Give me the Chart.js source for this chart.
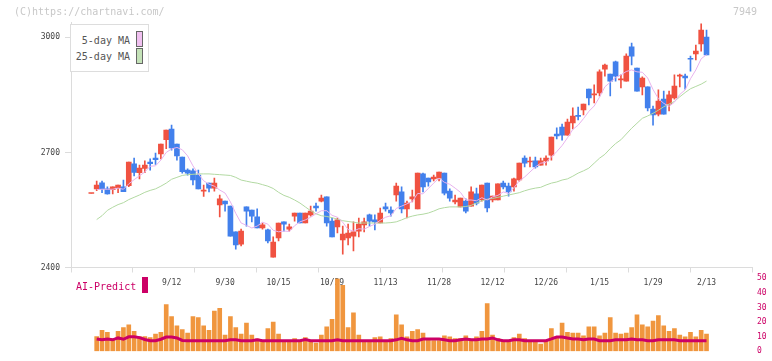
<!DOCTYPE html>
<html>
<head>
<meta charset="utf-8">
<script src="https://cdn.jsdelivr.net/npm/chart.js@4/dist/chart.umd.min.js"></script>
<style>
  body { margin: 0; background: #fff; width: 772px; height: 361px; overflow: hidden; position: relative;
         font-family: 'DejaVu Sans Mono', 'Liberation Mono', monospace; }
  canvas { position: absolute; left: 0; top: 0; }
  .note { position: absolute; font-size: 10px; line-height: 12px; color: #c8c8c8; }
  .legend { position: absolute; left: 70px; top: 24px; width: 79px; height: 48px; box-sizing: border-box;
            border: 1px solid #ddd; background: #fff; }
  .lg-text { position: absolute; width: 60px; text-align: right; font-size: 10px; line-height: 12px; color: #555; }
  .lg-box { position: absolute; width: 7px; box-sizing: border-box; border: 1px solid #666; }
  .ai { position: absolute; left: 76px; top: 281px; font-size: 10px; line-height: 12px; color: #cc0066; }
  .ai-box { position: absolute; left: 142px; top: 277px; width: 6px; height: 16px; background: #cc0066; }
</style>
</head>
<body>
<canvas id="price" width="772" height="361"></canvas>
<canvas id="vol" width="772" height="361"></canvas>

<div class="note" style="left:14px;top:6px;">(C)https://chartnavi.com/</div>
<div class="note" style="left:733px;top:6px;">7949</div>

<div class="legend"></div>
<div class="lg-text" style="left:70px;top:35px;">5-day MA</div>
<div class="lg-box" style="left:136px;top:31px;height:16px;background:#f0c0f0;"></div>
<div class="lg-text" style="left:70px;top:51px;">25-day MA</div>
<div class="lg-box" style="left:136px;top:48px;height:16px;background:#c4e2b8;"></div>

<div class="ai">AI-Predict</div>
<div class="ai-box"></div>

<script>
/* ---- dados ---- */
const opens = [2593,2605,2621,2605,2603,2608,2610,2613,2670,2647,2658,2675,2685,2696,2733,2761,2722,2688,2654,2652,
  2641,2599,2620,2607,2563,2573,2560,2493,2461,2558,2550,2532,2503,2498,2427,2477,2519,2500,2534,2542,
  2516,2537,2560,2573,2584,2521,2506,2472,2477,2482,2495,2511,2537,2524,2516,2558,2550,2589,2597,2553,
  2579,2553,2644,2633,2631,2633,2646,2599,2571,2558,2573,2560,2592,2576,2620,2576,2576,2620,2612,2610,
  2628,2685,2675,2678,2667,2678,2693,2748,2766,2745,2777,2796,2811,2865,2850,2855,2917,2904,2936,2889,
  2886,2975,2920,2871,2871,2813,2800,2839,2826,2842,2899,2899,2945,2957,2983,3001];
const highs = [2593,2625,2625,2610,2610,2615,2628,2675,2685,2667,2678,2683,2698,2722,2758,2771,2722,2688,2657,2657,
  2654,2615,2620,2633,2589,2573,2560,2493,2500,2558,2550,2553,2516,2500,2480,2516,2519,2513,2542,2542,
  2542,2560,2568,2589,2584,2529,2529,2508,2513,2519,2529,2529,2539,2537,2555,2568,2558,2620,2610,2573,
  2602,2646,2646,2633,2641,2649,2646,2605,2589,2581,2579,2610,2607,2615,2620,2586,2618,2625,2620,2633,
  2672,2691,2688,2688,2685,2691,2740,2764,2774,2787,2816,2818,2826,2865,2876,2915,2930,2904,2938,2902,
  2957,2985,2920,2897,2871,2821,2863,2860,2860,2902,2904,2904,2951,2980,3035,3019];
const lows = [2593,2600,2595,2591,2592,2595,2598,2611,2639,2631,2647,2654,2669,2683,2710,2706,2680,2646,2641,2615,
  2605,2585,2597,2599,2532,2547,2482,2448,2456,2508,2519,2503,2500,2464,2427,2469,2495,2495,2521,2516,
  2516,2534,2547,2571,2508,2480,2490,2435,2459,2443,2480,2493,2508,2498,2516,2547,2534,2573,2542,2529,
  2571,2553,2597,2612,2626,2626,2589,2573,2566,2558,2542,2560,2563,2573,2545,2571,2576,2605,2586,2599,
  2625,2662,2662,2659,2667,2667,2680,2735,2732,2745,2761,2785,2798,2824,2829,2847,2899,2847,2886,2868,
  2886,2928,2860,2850,2808,2771,2795,2800,2808,2839,2871,2865,2912,2941,2964,2954];
const closes = [2593,2615,2605,2592,2610,2615,2598,2675,2648,2659,2667,2671,2681,2722,2758,2712,2691,2650,2646,2628,
  2605,2599,2607,2620,2579,2566,2482,2459,2495,2547,2534,2503,2511,2469,2466,2516,2513,2506,2542,2516,
  2542,2547,2555,2581,2516,2480,2524,2487,2490,2493,2513,2519,2521,2519,2542,2553,2542,2612,2553,2568,
  2584,2646,2610,2623,2636,2649,2594,2581,2576,2581,2547,2597,2568,2615,2555,2586,2618,2610,2597,2631,
  2672,2672,2675,2662,2678,2685,2740,2743,2745,2779,2795,2794,2826,2842,2850,2910,2928,2886,2899,2889,
  2951,2951,2860,2894,2816,2798,2834,2800,2850,2873,2899,2894,2943,2964,3019,2954];

const ma5 = [null,2603,2604,2604,2604,2607,2604,2618,2629,2639,2649,2664,2665,2680,2700,2709,2713,2707,2691,2665,
  2644,2626,2617,2612,2602,2594,2571,2541,2516,2510,2503,2508,2518,2513,2497,2493,2495,2494,2509,2519,
  2524,2531,2540,2548,2548,2536,2531,2518,2499,2495,2501,2500,2507,2513,2523,2531,2535,2554,2560,2566,
  2572,2593,2592,2606,2620,2633,2622,2617,2607,2596,2576,2576,2574,2582,2576,2584,2588,2597,2593,2608,
  2626,2636,2649,2662,2672,2674,2688,2702,2718,2738,2760,2771,2788,2807,2821,2844,2871,2883,2895,2902,
  2911,2915,2910,2909,2894,2864,2840,2828,2820,2831,2851,2863,2892,2915,2944,2955];
const ma25 = [null,2525,2535,2549,2557,2564,2569,2577,2583,2589,2596,2601,2605,2612,2620,2630,2635,2640,2642,2643,
  2644,2644,2644,2643,2642,2641,2640,2635,2628,2625,2622,2620,2616,2612,2606,2596,2588,2583,2576,2568,
  2558,2548,2540,2535,2533,2530,2526,2522,2520,2518,2516,2516,2516,2516,2516,2516,2517,2519,2524,2530,
  2534,2537,2539,2542,2547,2553,2556,2558,2558,2558,2559,2562,2568,2574,2578,2580,2583,2586,2589,2592,
  2595,2600,2604,2607,2609,2615,2620,2623,2628,2631,2638,2646,2652,2659,2672,2685,2695,2710,2723,2733,
  2748,2763,2776,2789,2795,2802,2810,2819,2826,2833,2845,2856,2866,2872,2878,2886];

const volume = [null,10.1,14.3,13.0,8.5,13.7,16.2,18.1,13.7,10.1,10.1,9.3,11.8,13.0,31.9,23.7,17.4,14.9,12.4,23.7,
  23.1,17.4,14.3,27.5,29.4,11.1,23.7,16.2,11.8,19.3,11.1,8.5,7.5,15.6,20.0,11.8,7.3,7.3,8.7,7.3,
  9.3,7.3,5.5,11.1,16.8,21.8,49.6,45.2,16.2,26.3,11.1,7.3,7.3,9.3,9.9,7.3,8.7,25.0,18.1,9.9,
  13.7,14.9,12.4,8.7,7.3,7.3,10.5,9.9,8.7,8.7,10.5,7.3,9.9,13.7,32.6,11.1,8.7,7.3,7.3,9.3,
  11.8,8.7,7.3,7.3,4.8,7.3,15.6,9.9,19.3,13.0,12.4,12.4,10.5,16.8,16.8,10.5,12.4,23.1,12.4,11.8,
  12.4,16.2,25.0,18.1,16.8,20.6,24.4,17.4,13.7,15.6,11.1,9.9,13.0,9.9,14.3,11.8];
const aiPredict = [null,8.4,7.8,8.4,7.8,9.1,8.2,9.9,9.9,9.3,8.0,7.2,7.2,8.2,9.7,9.7,9.1,7.4,7.2,7.2,
  7.2,7.2,7.2,7.2,7.2,7.2,7.8,7.8,7.2,7.2,7.2,7.8,7.2,7.2,7.2,7.2,7.2,7.2,7.2,7.2,
  8.0,7.2,7.2,7.2,7.2,7.2,7.8,7.2,7.2,7.2,7.2,7.2,7.2,7.2,7.2,7.2,7.2,7.8,8.8,7.8,
  7.2,7.2,8.4,8.4,8.4,8.4,7.8,7.2,7.2,7.8,8.4,7.8,7.8,8.4,8.4,9.1,7.8,7.2,7.2,7.8,
  7.8,7.2,7.2,7.2,7.2,7.2,8.4,9.7,9.7,9.0,8.4,8.4,7.8,8.4,8.4,7.2,7.2,7.2,7.8,7.8,
  7.8,8.4,7.8,7.8,7.2,7.2,7.8,7.8,7.8,7.8,7.2,7.2,7.2,7.2,7.2,7.2];

const labelIdx = [15,25,35,45,55,65,75,85,95,105,115];
const labelTxt = ['9/12','9/30','10/15','10/29','11/13','11/28','12/12','12/26','1/15','1/29','2/13'];
const priceTicks = [2400,2700,3000];

/* ---- estilos ---- */
const UP = '#f05241', DOWN = '#4280ec';
const X_MIN = -3.8, X_MAX = 123.5;
const FONT = "'DejaVu Sans Mono', 'Liberation Mono', monospace";

const candleColor = ctx => {
  const i = ctx.dataIndex;
  return closes[i] >= opens[i] ? UP : DOWN;
};

const bodies = opens.map((o, i) => ({ x: i, y: [o, closes[i]] }));
const wicks  = lows.map((l, i) => ({ x: i, y: [l, highs[i]] }));
const toPts  = arr => arr.map((v, i) => ({ x: i, y: v }));

/* ---- gráfico de preço ---- */
new Chart(document.getElementById('price'), {
  type: 'bar',
  data: {
    datasets: [
      { type: 'line', data: toPts(ma5),  borderColor: '#e8b2ee', borderWidth: 1, pointRadius: 0, order: 1 },
      { type: 'line', data: toPts(ma25), borderColor: '#b2d9a2', borderWidth: 1, pointRadius: 0, order: 1 },
      { data: bodies, backgroundColor: candleColor, barThickness: 5, minBarLength: 1, grouped: false, order: 2 },
      { data: wicks,  backgroundColor: candleColor, barThickness: 1, grouped: false, order: 3 },
    ],
  },
  options: {
    responsive: false,
    animation: false,
    devicePixelRatio: 1,
    layout: { padding: { top: 22, right: 20, bottom: 67.5, left: 0 } },
    plugins: { legend: { display: false }, tooltip: { enabled: false } },
    scales: {
      x: {
        type: 'linear', min: X_MIN, max: X_MAX, offset: false,
        grid: { drawOnChartArea: false, offset: false, color: '#dcdcdc', tickLength: 5 },
        border: { color: '#dcdcdc' },
        ticks: { display: false },
        afterBuildTicks: s => { s.ticks = Array.from({ length: 12 }, (_, i) => ({ value: X_MIN + i * (X_MAX - X_MIN) / 11 })); },
        afterFit: s => { s.height = 6; },
      },
      x2: {
        type: 'linear', position: 'bottom', min: X_MIN, max: X_MAX, offset: false,
        grid: { display: false, drawTicks: false, offset: false },
        border: { display: false },
        ticks: {
          autoSkip: false, maxRotation: 0, padding: 5, color: '#444',
          font: { family: FONT, size: 8 },
          callback: v => labelTxt[labelIdx.indexOf(v)],
        },
        afterBuildTicks: s => { s.ticks = labelIdx.map(v => ({ value: v })); },
        afterFit: s => { s.height = 20; },
      },
      y: {
        min: 2400, max: 3040,
        grid: { drawOnChartArea: false, color: '#dcdcdc', tickLength: 6 },
        border: { color: '#dcdcdc' },
        ticks: { color: '#444', padding: 5, font: { family: FONT, size: 8 }, callback: v => String(v) },
        afterBuildTicks: s => { s.ticks = priceTicks.map(v => ({ value: v })); },
        afterFit: s => { s.width = 71; },
      },
    },
  },
});

/* ---- gráfico de volume ---- */
new Chart(document.getElementById('vol'), {
  type: 'bar',
  data: {
    datasets: [
      { type: 'line', data: toPts(aiPredict), borderColor: '#cc0066', borderWidth: 3, pointRadius: 0, order: 1 },
      { data: toPts(volume), backgroundColor: '#f0963e', barThickness: 4, grouped: false, order: 2 },
    ],
  },
  options: {
    responsive: false,
    animation: false,
    devicePixelRatio: 1,
    layout: { padding: { top: 278.3, right: 0, bottom: 3.3, left: 71 } },
    plugins: { legend: { display: false }, tooltip: { enabled: false } },
    scales: {
      x: { type: 'linear', min: X_MIN, max: X_MAX, offset: false, display: false },
      y: {
        position: 'right', min: 0, max: 50,
        grid: { display: false, drawTicks: false },
        border: { display: false },
        ticks: { stepSize: 10, padding: 5, color: '#cc0066', font: { family: FONT, size: 8 } },
        afterFit: s => { s.width = 20; },
      },
    },
  },
});
</script>
</body>
</html>
